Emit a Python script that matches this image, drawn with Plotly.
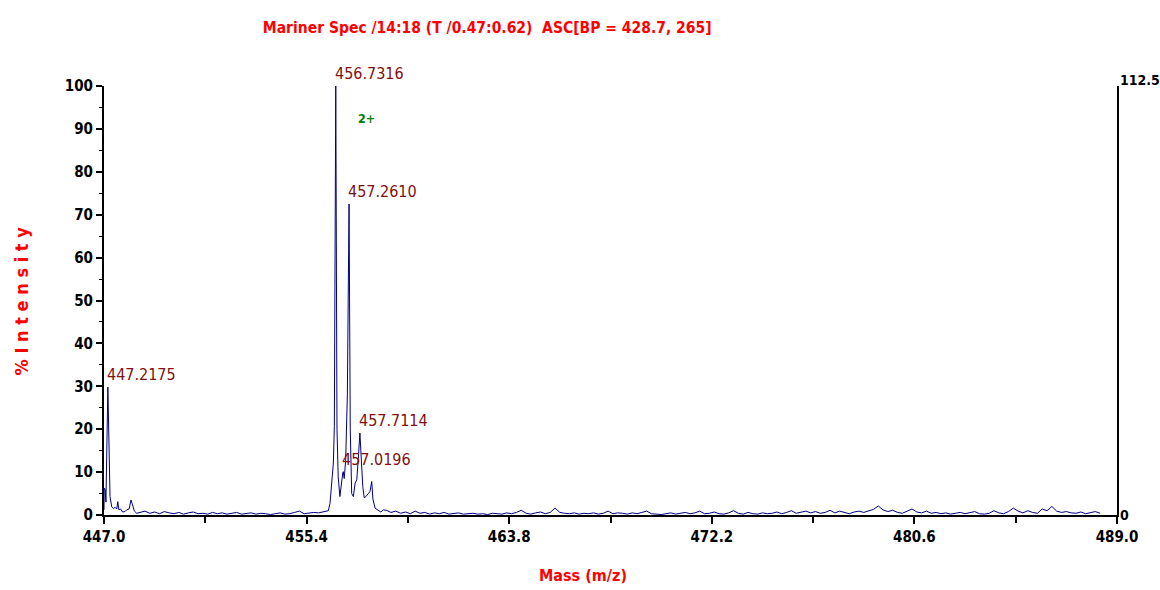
import plotly.graph_objects as go

# ---------------- data ----------------
mz_first = [447.00, 447.01, 447.05, 447.08, 447.16, 447.25, 447.32, 447.39, 447.46, 447.53,
            447.57, 447.62, 447.69, 447.77, 447.87, 447.94, 448.04, 448.12, 448.17, 448.22,
            448.26, 448.36]
int_first = [1.2, 6.3, 6.0, 3.0, 29.8, 4.3, 1.9, 1.5, 1.8, 1.4,
             3.1, 1.2, 1.4, 0.7, 0.8, 1.2, 1.4, 3.5, 2.6, 1.8,
             0.9, 0.4]

mz_gap = [448.5, 448.7, 448.9, 449.1, 449.3, 449.5, 449.7, 449.9, 450.1, 450.3,
          450.5, 450.7, 450.9, 451.1, 451.3, 451.5, 451.7, 451.9, 452.1, 452.3,
          452.5, 452.7, 452.9, 453.1, 453.3, 453.5, 453.7, 453.9, 454.1, 454.3,
          454.5, 454.7, 454.9, 455.1, 455.3, 455.5, 455.7, 455.9]
int_gap = [0.6, 0.9, 0.4, 0.7, 0.3, 0.8, 0.5, 0.3, 0.6, 0.2,
           0.5, 0.7, 0.3, 0.4, 0.2, 0.6, 0.3, 0.5, 0.2, 0.4,
           0.6, 0.2, 0.3, 0.5, 0.2, 0.4, 0.3, 0.1, 0.3, 0.5,
           0.2, 0.3, 0.6, 0.9, 0.3, 0.4, 0.6, 0.5]

mz_cluster = [456.05, 456.16, 456.30, 456.37, 456.44, 456.51, 456.55, 456.61, 456.66, 456.71,
              456.78, 456.85, 456.90, 456.92, 456.96, 457.02, 457.09, 457.16, 457.21, 457.27,
              457.34, 457.41, 457.48, 457.54, 457.61, 457.67, 457.73, 457.79, 457.86, 457.96,
              458.03, 458.10, 458.15, 458.24, 458.37, 458.48, 458.58]
int_cluster = [0.7, 0.9, 1.0, 2.7, 8.2, 12.1, 20.6, 100.0, 20.0, 8.9,
               4.3, 8.2, 9.8, 10.1, 8.5, 12.8, 28.0, 72.5, 20.0, 5.0,
               4.3, 7.4, 8.2, 12.8, 19.1, 12.8, 6.6, 4.0, 4.3, 5.0,
               5.5, 7.8, 3.7, 1.6, 1.0, 0.7, 1.2]

mz_tail = [458.7, 458.9, 459.1, 459.3, 459.5, 459.7, 459.9, 460.1, 460.3, 460.5,
           460.7, 460.9, 461.1, 461.3, 461.5, 461.7, 461.9, 462.1, 462.3, 462.5,
           462.7, 462.9, 463.1, 463.3, 463.5, 463.7, 463.9, 464.1, 464.3, 464.5,
           464.7, 464.9, 465.1, 465.3, 465.5, 465.7, 465.9, 466.1, 466.3, 466.5,
           466.7, 466.9, 467.1, 467.3, 467.5, 467.7, 467.9, 468.1, 468.3, 468.5,
           468.7, 468.9, 469.1, 469.3, 469.5, 469.7, 469.9, 470.1, 470.3, 470.5,
           470.7, 470.9, 471.1, 471.3, 471.5, 471.7, 471.9, 472.1, 472.3, 472.5,
           472.7, 472.9, 473.1, 473.3, 473.5, 473.7, 473.9, 474.1, 474.3, 474.5,
           474.7, 474.9, 475.1, 475.3, 475.5, 475.7, 475.9, 476.1, 476.3, 476.5,
           476.7, 476.9, 477.1, 477.3, 477.5, 477.7, 477.9, 478.1, 478.3, 478.5,
           478.7, 478.9, 479.1, 479.3, 479.5, 479.7, 479.9, 480.1, 480.3, 480.5,
           480.7, 480.9, 481.1, 481.3, 481.5, 481.7, 481.9, 482.1, 482.3, 482.5,
           482.7, 482.9, 483.1, 483.3, 483.5, 483.7, 483.9, 484.1, 484.3, 484.5,
           484.7, 484.9, 485.1, 485.3, 485.5, 485.7, 485.9, 486.1, 486.3, 486.5,
           486.7, 486.9, 487.1, 487.3, 487.5, 487.7, 487.9, 488.1, 488.3]
int_tail = [1.1, 0.6, 0.9, 0.4, 0.7, 0.3, 0.9, 0.4, 0.6, 0.2,
            0.5, 0.3, 0.6, 0.2, 0.4, 0.5, 0.2, 0.3, 0.4, 0.2,
            0.3, 0.1, 0.4, 0.3, 0.2, 0.5, 0.3, 0.6, 1.1, 0.4,
            0.2, 0.5, 0.7, 0.3, 0.6, 1.6, 0.6, 0.4, 0.3, 0.5,
            0.2, 0.4, 0.3, 0.5, 0.2, 0.4, 0.9, 0.3, 0.5, 0.4,
            0.2, 0.5, 0.3, 0.6, 0.9, 0.3, 0.2, 0.1, 0.3, 0.5,
            0.2, 0.4, 0.6, 0.3, 0.5, 0.9, 0.3, 0.4, 0.7, 0.3,
            0.2, 0.5, 1.0, 0.4, 0.2, 0.6, 0.3, 0.2, 0.5, 0.3,
            0.4, 0.7, 0.3, 0.6, 1.0, 0.4, 0.6, 0.9, 0.5, 0.8,
            0.4, 0.6, 1.1, 0.5, 0.9, 0.6, 0.3, 0.7, 0.9, 0.6,
            1.0, 1.3, 2.1, 1.2, 0.8, 1.1, 0.6, 0.4, 0.9, 1.4,
            0.7, 0.5, 0.9, 0.4, 0.6, 0.3, 0.5, 0.2, 0.4, 0.6,
            0.3, 0.5, 0.8, 0.3, 0.2, 0.4, 1.0, 0.5, 0.3, 0.8,
            1.6, 0.9, 0.5, 1.0, 0.6, 0.4, 1.4, 1.0, 2.0, 0.9,
            0.6, 0.8, 0.5, 0.4, 0.7, 0.3, 0.5, 0.8, 0.4]

peak_labels = ["447.2175", "456.7316", "457.2610", "457.0196", "457.7114"]
peak_mz = [447.16, 456.61, 457.16, 456.92, 457.61]
peak_int = [29.8, 100.0, 72.5, 10.1, 19.1]

x_tick_vals = [447.0, 455.4, 463.8, 472.2, 480.6, 489.0]
x_tick_text = ["447.0", "455.4", "463.8", "472.2", "480.6", "489.0"]
x_minor_vals = [451.2, 459.6, 468.0, 476.4, 484.8]
y_tick_vals = [0, 10, 20, 30, 40, 50, 60, 70, 80, 90, 100]
y2_tick_vals = [0, 112.5]
y2_tick_text = ["0", "112.5"]

charge_label = "2+"
charge_mz = 457.90
charge_int = 92.5

title_text = "Mariner Spec /14:18 (T /0.47:0.62)  ASC[BP = 428.7, 265]"

# ---------------- figure ----------------
mz = mz_first + mz_gap + mz_cluster + mz_tail
inten = int_first + int_gap + int_cluster + int_tail

NARROW = "Liberation Sans Narrow, Arial Narrow, DejaVu Sans Condensed, sans-serif"
RED = "#ff0000"
LABEL = "#7f1010"

fig = go.Figure()
fig.add_trace(go.Scatter(x=mz, y=inten, mode="lines",
                         line=dict(color="#000080", width=1), hoverinfo="skip",
                         showlegend=False))
# invisible trace to activate right axis
fig.add_trace(go.Scatter(x=[447.0], y=[0], yaxis="y2", mode="markers",
                         marker=dict(opacity=0), showlegend=False, hoverinfo="skip"))

for lab, px, py in zip(peak_labels, peak_mz, peak_int):
    fig.add_annotation(x=px, y=py, text=lab, showarrow=False, xanchor="left",
                       yanchor="bottom", xshift=-3, yshift=1,
                       font=dict(family=NARROW, size=16, color=LABEL))

fig.add_annotation(x=charge_mz, y=charge_int, text="<b>" + charge_label + "</b>",
                   showarrow=False, font=dict(family=NARROW, size=12.5, color="#008000"))

fig.add_annotation(xref="paper", yref="paper", x=-0.081, y=0.50, text="<b>% I n t e n s i t y</b>",
                   textangle=-90, showarrow=False, xanchor="center", yanchor="middle",
                   font=dict(family=NARROW, size=18, color=RED))
fig.add_annotation(xref="paper", yref="paper", x=0.473, y=-0.14, text="<b>Mass (m/z)</b>",
                   showarrow=False, xanchor="center", yanchor="middle",
                   font=dict(family=NARROW, size=16, color=RED))

TICKFONT = dict(family=NARROW, size=15, color="black", weight="bold")

# right-axis tick labels, drawn next to the axis line
for v, t in zip(y2_tick_vals, y2_tick_text):
    fig.add_annotation(xref="paper", yref="y2", x=1.0, y=v, text="<b>" + t + "</b>",
                       showarrow=False, xanchor="left",
                       yanchor="bottom" if v > 0 else "middle",
                       xshift=1, yshift=-4 if v > 0 else 0,
                       font=dict(family=NARROW, size=14, color="black"))

fig.update_layout(
    width=1160, height=590,
    margin=dict(l=104, r=43, t=86, b=75, autoexpand=False),
    paper_bgcolor="white", plot_bgcolor="white",
    title=dict(text="<b>" + title_text + "</b>", x=0.42, xanchor="center",
               y=1 - 28 / 590, yanchor="middle",
               font=dict(family=NARROW, size=15.5, color=RED)),
    xaxis=dict(range=[447.0, 489.0], tickvals=x_tick_vals, ticktext=x_tick_text,
               ticks="outside", ticklen=7, tickwidth=1.5, tickcolor="black", automargin=False,
               showline=True, linecolor="black", linewidth=2, showgrid=False, zeroline=False,
               minor=dict(tickvals=x_minor_vals, ticks="outside",
                          ticklen=6, tickwidth=1.5, tickcolor="black"),
               tickfont=TICKFONT),
    yaxis=dict(range=[0, 100], tickvals=y_tick_vals, ticks="outside", ticklen=6,
               tickwidth=1.5, tickcolor="black", automargin=False,
               showline=True, linecolor="black", linewidth=2, showgrid=False, zeroline=False,
               minor=dict(dtick=5, ticks="outside", ticklen=3, tickwidth=1, tickcolor="black"),
               tickfont=TICKFONT),
    yaxis2=dict(range=[0, 112.5], overlaying="y", side="right", anchor="x",
                tickvals=y2_tick_vals, showticklabels=False, ticks="inside", ticklen=6,
                tickwidth=1.5, tickcolor="black", automargin=False,
                showline=True, linecolor="black", linewidth=2, showgrid=False, zeroline=False),
)

fig.write_html("out.html")
